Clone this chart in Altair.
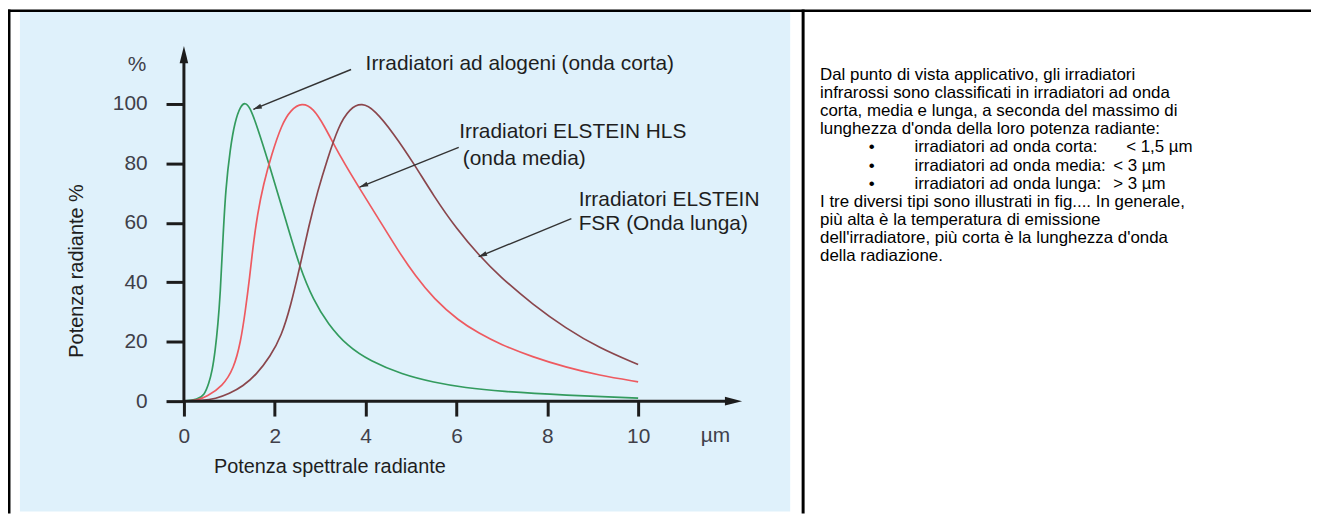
import math
import altair as alt
import pandas as pd

# ---------------- data ----------------
series_names = ["Irradiatori ad alogeni (onda corta)",
                "Irradiatori ELSTEIN HLS (onda media)",
                "Irradiatori ELSTEIN FSR (Onda lunga)"]
series_colors = ["#339b5e", "#ee5a60", "#8a464c"]

green_x = [0, 0.3, 0.45, 0.55, 0.62, 0.69, 0.75, 0.80, 0.85, 0.92, 1.02, 1.12,
           1.25, 1.35, 1.45, 1.60, 1.89, 2.26, 2.55, 2.85, 3.17, 3.6, 4.1, 4.8,
           5.5, 6.2, 6.95, 8.4, 10]
green_y = [0, 0.5, 2, 6, 10, 17, 26, 36, 52, 72, 85, 94,
           99.5, 100.5, 99, 93, 79, 60, 45, 34, 26, 18.5, 13.5, 9,
           6.3, 4.5, 3.3, 2, 1]

red_x = [0, 0.3, 0.5, 0.85, 1.1, 1.25, 1.35, 1.45, 1.52, 1.62, 1.75, 1.93, 2.15,
         2.35, 2.6, 2.85, 3.08, 3.45, 3.89, 4.3, 4.7, 5.1, 5.5, 6.05, 6.5, 6.95,
         7.68, 8.41, 9.13, 10]
red_y = [0, 0.3, 1.5, 5, 11, 20, 30, 42, 52, 63, 73, 83, 93,
         98, 100.5, 98.5, 93, 82, 71, 61, 51, 42, 34.5, 27, 22.8, 19.2,
         14.8, 11.4, 8.7, 6.5]

brown_x = [0, 0.4, 0.7, 1.0, 1.3, 1.6, 1.9, 2.15, 2.35, 2.55, 2.75, 2.95, 3.15,
           3.4, 3.65, 3.92, 4.2, 4.62, 5.06, 5.5, 6.0, 6.5, 6.95, 7.68, 8.41,
           9.13, 10]
brown_y = [0, 0.2, 0.8, 2.5, 5, 9, 15, 22, 32, 45, 59, 71, 81,
           92.5, 98.5, 100.5, 98, 90, 80, 69, 58, 49, 42, 32.5, 24.5,
           18, 12.3]

x_ticks = [0, 2, 4, 6, 8, 10]
y_ticks = [0, 20, 40, 60, 80, 100]

ann_text = ["Irradiatori ad alogeni (onda corta)", "Irradiatori ELSTEIN HLS",
            "(onda media)", "Irradiatori ELSTEIN", "FSR (Onda lunga)"]
ann_x = [4.0, 6.06, 6.14, 8.69, 8.69]
ann_y = [113.4, 90.6, 81.4, 67.6, 59.5]

arrow_x = [3.68, 6.05, 8.53]
arrow_y = [111.6, 85.4, 61.4]
arrow_x2 = [1.53, 3.87, 6.49]
arrow_y2 = [98.2, 72.0, 48.6]

para1 = ["Dal punto di vista applicativo, gli irradiatori",
         "infrarossi sono classificati in irradiatori ad onda",
         "corta, media e lunga, a seconda del massimo di",
         "lunghezza d'onda della loro potenza radiante:"]
bullet_text = ["irradiatori ad onda corta:", "irradiatori ad onda media:",
               "irradiatori ad onda lunga:"]
bullet_val = ["< 1,5 µm", "< 3 µm", "> 3 µm"]
para2 = ["I tre diversi tipi sono illustrati in fig.... In generale,",
         "più alta è la temperatura di emissione",
         "dell'irradiatore, più corta è la lunghezza d'onda",
         "della radiazione."]

# ---------------- layout ----------------
FONT = "Liberation Sans"
W, H = 457, 299          # plot area: x 0..10 , y 0..100
OX, OY = 185, 103        # page position of plot origin
PX_X = W / 10.0
PX_Y = H / 100.0


def vx(X):
    return X - OX


def vy(Y):
    return Y - OY


one = pd.DataFrame({"a": [0]})

xs = alt.Scale(domain=[0, 10], nice=False, zero=False)
ys = alt.Scale(domain=[0, 100], nice=False, zero=False)
x_axis = alt.Axis(
    values=x_ticks, domain=False, grid=False, tickSize=15, tickWidth=3,
    tickColor="#1c1c1c", labelFontSize=21, labelFont=FONT,
    labelColor="#404049", labelPadding=10, labelFlush=False, title=None,
    zindex=1)
y_axis = alt.Axis(
    values=y_ticks, domain=False, grid=False, tickSize=18, tickWidth=3,
    tickColor="#1c1c1c", labelFontSize=21, labelFont=FONT,
    labelColor="#404049", labelPadding=19, labelFlush=False, title=None,
    zindex=1)
XE = alt.X("x:Q", scale=xs, axis=x_axis)
YE = alt.Y("y:Q", scale=ys, axis=y_axis)

bg = alt.Chart(one).mark_rect(color="#dff1fb").encode(
    x=alt.value(vx(20)), x2=alt.value(vx(795)),
    y=alt.value(vy(10)), y2=alt.value(vy(513)))

border_style = dict(color="#000000")
b_top = alt.Chart(one).mark_rect(**border_style).encode(
    x=alt.value(vx(8)), x2=alt.value(vx(1319)),
    y=alt.value(vy(8)), y2=alt.value(vy(10.5)))
b_left = alt.Chart(one).mark_rect(**border_style).encode(
    x=alt.value(vx(8)), x2=alt.value(vx(10.5)),
    y=alt.value(vy(8)), y2=alt.value(vy(515)))
b_mid = alt.Chart(one).mark_rect(**border_style).encode(
    x=alt.value(vx(806.5)), x2=alt.value(vx(809.5)),
    y=alt.value(vy(8)), y2=alt.value(vy(515)))

rows = []
for name, xv, yv in zip(series_names, [green_x, red_x, brown_x],
                        [green_y, red_y, brown_y]):
    for a, b in zip(xv, yv):
        rows.append({"x": a, "y": b, "series": name})
df = pd.DataFrame(rows)

lines = alt.Chart(df).mark_line(interpolate="basis", strokeWidth=1.7).encode(
    x=XE, y=YE,
    color=alt.Color("series:N", scale=alt.Scale(domain=series_names,
                                                 range=series_colors),
                    legend=None),
)

# axis lines with arrow heads
ax_df = pd.DataFrame({"x": [0, 0], "y": [0, 0], "x2": [0, 12.1],
                      "y2": [116.6, 0]})
ax_lines = alt.Chart(ax_df).mark_rule(color="#1c1c1c", strokeWidth=3).encode(
    x=XE, y=YE, x2="x2:Q", y2="y2:Q")
ah_df = pd.DataFrame({"x": [0, 12.1], "y": [116.6, 0], "ang": [0, 90]})
ax_heads = alt.Chart(ah_df).mark_point(
    shape="M0,-1L0.5,1L-0.5,1Z", filled=True, size=300, opacity=1,
    color="#1c1c1c").encode(
    x=XE, y=YE, angle=alt.Angle("ang:Q", scale=None))

# annotation arrows
arr_df = pd.DataFrame({"x": arrow_x, "y": arrow_y, "x2": arrow_x2,
                       "y2": arrow_y2})
arr_lines = alt.Chart(arr_df).mark_rule(color="#333333", strokeWidth=1.4).encode(
    x=XE, y=YE, x2="x2:Q", y2="y2:Q")
hx, hy, hang = [], [], []
for a, b, c, d in zip(arrow_x, arrow_y, arrow_x2, arrow_y2):
    dxp = (c - a) * PX_X
    dyp = -(d - b) * PX_Y
    L = math.hypot(dxp, dyp)
    ux, uy = dxp / L, dyp / L
    hx.append(c - 4 * ux / PX_X)
    hy.append(d + 4 * uy / PX_Y)
    hang.append(math.degrees(math.atan2(ux, -uy)) % 360)
head_df = pd.DataFrame({"x": hx, "y": hy, "ang": hang})
arr_heads = alt.Chart(head_df).mark_point(
    shape="M0,-1L0.55,1L-0.55,1Z", filled=True, size=80, opacity=1,
    color="#333333").encode(
    x=XE, y=YE, angle=alt.Angle("ang:Q", scale=None))

ann_df = pd.DataFrame({"x": ann_x, "y": ann_y, "t": ann_text})
ann = alt.Chart(ann_df).mark_text(
    align="left", baseline="middle", fontSize=21, font=FONT,
    color="#1e1e1e").encode(x=XE, y=YE, text="t:N")

pct_df = pd.DataFrame({"x": [-0.83], "y": [113.2], "t": ["%"]})
unit_pct = alt.Chart(pct_df).mark_text(
    align="right", baseline="middle", fontSize=21, font=FONT,
    color="#404049").encode(x=XE, y=YE, text="t:N")
um_df = pd.DataFrame({"x": [11.7], "y": [-11.6], "t": ["µm"]})
unit_um = alt.Chart(um_df).mark_text(
    align="center", baseline="middle", fontSize=21, font=FONT,
    color="#404049").encode(x=XE, y=YE, text="t:N")

xt_df = pd.DataFrame({"x": [0.66], "y": [-22.1],
                      "t": ["Potenza spettrale radiante"]})
x_title = alt.Chart(xt_df).mark_text(
    align="left", baseline="middle", fontSize=20, font=FONT,
    color="#1e1e1e").encode(x=XE, y=YE, text="t:N")
yt_df = pd.DataFrame({"x": [-2.36], "y": [43.8], "t": ["Potenza radiante %"]})
y_title = alt.Chart(yt_df).mark_text(
    align="center", baseline="middle", fontSize=20, font=FONT, angle=270,
    color="#1e1e1e").encode(x=XE, y=YE, text="t:N")

# right-hand text cell
TS = 17
LH = 18.2
TY0 = 79
txt_style = dict(align="left", baseline="alphabetic", fontSize=TS, font=FONT,
                 color="#000000", lineHeight=LH)
p1 = alt.Chart(one).mark_text(**txt_style).encode(
    x=alt.value(vx(825)), y=alt.value(vy(TY0)), text=alt.value(para1))
bul = alt.Chart(one).mark_text(**txt_style).encode(
    x=alt.value(vx(874)), y=alt.value(vy(TY0 + 4 * LH)),
    text=alt.value(["•", "•", "•"]))
bt = alt.Chart(one).mark_text(**txt_style).encode(
    x=alt.value(vx(920)), y=alt.value(vy(TY0 + 4 * LH)),
    text=alt.value(bullet_text))
bv1 = alt.Chart(one).mark_text(**txt_style).encode(
    x=alt.value(vx(1133)), y=alt.value(vy(TY0 + 4 * LH)),
    text=alt.value(bullet_val[0]))
bv2 = alt.Chart(one).mark_text(**txt_style).encode(
    x=alt.value(vx(1120)), y=alt.value(vy(TY0 + 5 * LH)),
    text=alt.value(bullet_val[1:]))
p2 = alt.Chart(one).mark_text(**txt_style).encode(
    x=alt.value(vx(825)), y=alt.value(vy(TY0 + 7 * LH)), text=alt.value(para2))

chart = alt.layer(
    bg, b_top, b_left, b_mid, lines, ax_lines, ax_heads, arr_lines, arr_heads,
    ann, unit_pct, unit_um, x_title, y_title, p1, bul, bt, bv1, bv2, p2
).properties(
    width=W, height=H,
    autosize=alt.AutoSizeParams(type="none"),
    padding={"left": OX - 8, "top": OY - 8,
             "right": 1319 - 8 - (OX - 8) - W, "bottom": 515 - 8 - (OY - 8) - H},
    background="#ffffff",
).configure_view(strokeWidth=0)

chart.save("out.html", embed_options={"renderer": "svg", "actions": False})
